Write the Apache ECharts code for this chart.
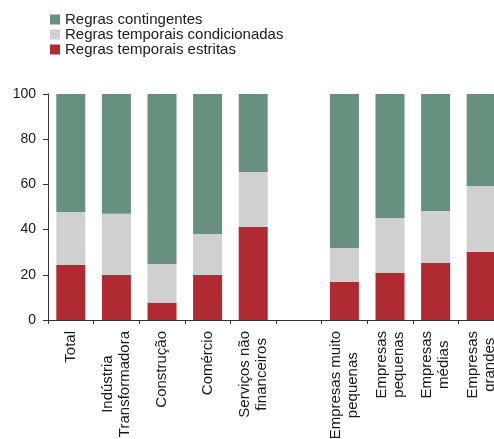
<!DOCTYPE html>
<html>
<head>
<meta charset="utf-8">
<script src="https://cdn.jsdelivr.net/npm/echarts@6/dist/echarts.min.js"></script>
<style>
  html, body { margin: 0; padding: 0; background: #fff; }
  #chart { width: 494px; height: 439px; }
</style>
</head>
<body>
<div id="chart"></div>
<script>
// Categories (empty slot separates sectors from company sizes)
const categories = [
  'Total',
  'Indústria\nTransformadora',
  'Construção',
  'Comércio',
  'Serviços não\nfinanceiros',
  '',
  'Empresas muito\npequenas',
  'Empresas\npequenas',
  'Empresas\nmédias',
  'Empresas\ngrandes'
];

// Shares (%) of each rule type, stacked from the bottom
const estritas      = [24.3, 20.0,  7.7, 20.0, 41.2, null, 16.8, 20.8, 25.2, 30.1];
const condicionadas = [23.5, 27.0, 17.1, 18.0, 24.3, null, 15.1, 24.3, 23.0, 29.2];
const contingentes  = [52.2, 53.0, 75.2, 62.0, 34.5, null, 68.1, 54.9, 51.8, 40.7];

const yTicks = { min: 0, max: 100, interval: 20 };

const FONT = '"Liberation Sans", Arial, sans-serif';
const TEXT = '#1a1a1a';
const AXIS = '#333333';

const chart = echarts.init(document.getElementById('chart'), null, { renderer: 'canvas' });

const bar = (name, data, color) => ({
  name, type: 'bar', stack: 'total', data,
  barWidth: 29,
  itemStyle: { color },
  emphasis: { disabled: true },
  animation: false
});

chart.setOption({
  animation: false,
  textStyle: { fontFamily: FONT },
  legend: {
    orient: 'vertical',
    left: 50,
    top: 12,
    padding: 0,
    itemWidth: 10,
    itemHeight: 10,
    itemGap: 0,
    icon: 'rect',
    selectedMode: false,
    data: ['Regras contingentes', 'Regras temporais condicionadas', 'Regras temporais estritas'],
    textStyle: { fontFamily: FONT, fontSize: 15, color: TEXT, lineHeight: 14.5 }
  },
  // the plot runs past the right edge, so the last bar is cut off
  grid: { left: 48, top: 94, width: 456, height: 226, containLabel: false, outerBoundsMode: 'none' },
  xAxis: {
    type: 'category',
    data: categories,
    boundaryGap: true,
    axisLine: { show: true, lineStyle: { color: AXIS, width: 1 } },
    axisTick: { show: true, interval: 0, length: 4, lineStyle: { color: AXIS } },
    axisLabel: {
      interval: 0,
      rotate: 90,
      margin: 11,
      color: TEXT,
      fontFamily: FONT,
      fontSize: 15,
      lineHeight: 17,
      hideOverlap: false,
      formatter: v => v.split('\n').map(s => '{c|' + s + '}').join('\n'),
      rich: { c: { align: 'center', fontFamily: FONT, fontSize: 15, lineHeight: 17, color: TEXT } }
    }
  },
  yAxis: {
    type: 'value',
    min: yTicks.min, max: yTicks.max, interval: yTicks.interval,
    axisLine: { show: true, lineStyle: { color: AXIS, width: 1 } },
    axisTick: { show: true, length: 5, lineStyle: { color: AXIS } },
    splitLine: { show: false },
    axisLabel: { margin: 12, color: TEXT, fontFamily: FONT, fontSize: 14 }
  },
  series: [
    bar('Regras temporais estritas', estritas, '#b02b31'),
    bar('Regras temporais condicionadas', condicionadas, '#d0d0d0'),
    bar('Regras contingentes', contingentes, '#68907f')
  ]
});
</script>
</body>
</html>
